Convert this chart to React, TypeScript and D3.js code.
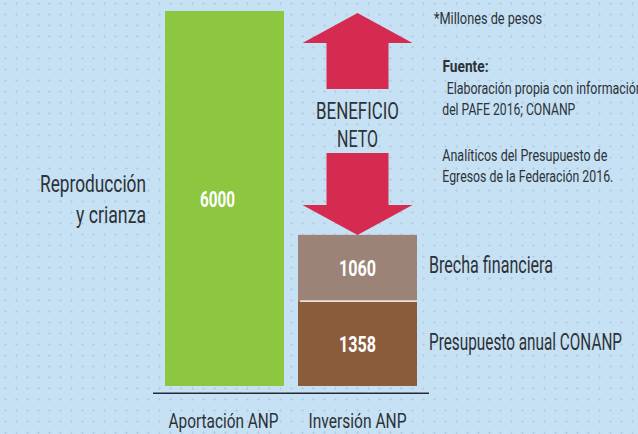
import React from "react";
import * as d3 from "d3";

const categories = ["Aportación ANP", "Inversión ANP"];
const aportacionValues = [6000];
const inversionSegments = ["Presupuesto anual CONANP", "Brecha financiera"];
const inversionValues = [1358, 1060];
const sideLabel = ["Reproducción", "y crianza"];
const beneficioLabel = ["BENEFICIO", "NETO"];
const notes = {
  unit: "*Millones de pesos",
  sourceTitle: "Fuente:",
  sourceLines: [
    "Elaboración propia con información",
    "del PAFE 2016; CONANP",
    "Analíticos del Presupuesto de",
    "Egresos de la Federación 2016.",
  ],
};

const W = 638;
const H = 434;
const TEXT = "#2d3237";
const FONT = "Roboto, 'Liberation Sans', sans-serif";

function T({ x, y, text, size, len, anchor = "start", weight = 400, fill = TEXT }: any) {
  return (
    <text
      x={x}
      y={y}
      fontSize={size}
      fontFamily={FONT}
      fontWeight={weight}
      textAnchor={anchor}
      fill={fill}
      textLength={len}
      lengthAdjust="spacingAndGlyphs"
    >
      {text}
    </text>
  );
}

export default function App() {
  const y = d3.scaleLinear().domain([0, 6000]).range([386, 11]);
  const x = d3
    .scaleBand<string>()
    .domain(categories)
    .range([165, 417])
    .paddingInner(14 / 133)
    .paddingOuter(0);
  const bw = x.bandwidth();

  const x0 = x(categories[0])!;
  const x1 = x(categories[1])!;
  const c0 = x0 + bw / 2;
  const c1 = x1 + bw / 2;

  const stack = inversionValues.reduce<{ v0: number; v1: number; name: string }[]>((acc, v, i) => {
    const start = acc.length ? acc[acc.length - 1].v1 : 0;
    acc.push({ v0: start, v1: start + v, name: inversionSegments[i] });
    return acc;
  }, []);
  const segColors = ["#8a5c3b", "#9b8477"];
  const total = stack[stack.length - 1].v1;

  // arrows
  const headW = 110;
  const shaftW = 62;
  const headH = 30;
  const upTip = y(aportacionValues[0]) + 2;
  const upShaftBottom = 89;
  const downTip = y(total);
  const downShaftTop = 153;
  const upPath = d3.path();
  upPath.moveTo(c1, upTip);
  upPath.lineTo(c1 + headW / 2, upTip + headH);
  upPath.lineTo(c1 + shaftW / 2, upTip + headH);
  upPath.lineTo(c1 + shaftW / 2, upShaftBottom);
  upPath.lineTo(c1 - shaftW / 2, upShaftBottom);
  upPath.lineTo(c1 - shaftW / 2, upTip + headH);
  upPath.lineTo(c1 - headW / 2, upTip + headH);
  upPath.closePath();
  const downPath = d3.path();
  downPath.moveTo(c1, downTip);
  downPath.lineTo(c1 + headW / 2, downTip - headH);
  downPath.lineTo(c1 + shaftW / 2, downTip - headH);
  downPath.lineTo(c1 + shaftW / 2, downShaftTop);
  downPath.lineTo(c1 - shaftW / 2, downShaftTop);
  downPath.lineTo(c1 - shaftW / 2, downTip - headH);
  downPath.lineTo(c1 - headW / 2, downTip - headH);
  downPath.closePath();

  const segLabelLens = [193, 124];
  const segLabelY = [350, 273];

  return (
    <svg
      width={W}
      height={H}
      style={{ position: "absolute", left: 0, top: 0, display: "block" }}
    >
      <defs>
        <pattern id="grid" patternUnits="userSpaceOnUse" x={0} y={0} width={11} height={11}>
          <rect x={4} y={3} width={3} height={1} fill="#b3d0e6" />
          <rect x={5} y={2} width={1} height={3} fill="#b3d0e6" />
        </pattern>
      </defs>
      <rect x={0} y={0} width={W} height={H} fill="#c6e1f4" />
      <rect x={0} y={0} width={W} height={H} fill="url(#grid)" />

      {/* Aportación bar */}
      {aportacionValues.map((v, i) => (
        <g key={"a" + i}>
          <rect x={x0} y={y(v)} width={bw} height={y(0) - y(v)} fill="#8dc63f" />
          <T
            x={c0 - 7}
            y={(y(v) + y(0)) / 2 + 8}
            text={String(v)}
            size={22}
            len={35}
            anchor="middle"
            weight={700}
            fill="#ffffff"
          />
        </g>
      ))}

      {/* Inversión stacked bar */}
      {stack.map((s, i) => (
        <g key={"s" + i}>
          <rect x={x1} y={y(s.v1)} width={bw} height={y(s.v0) - y(s.v1)} fill={segColors[i]} />
          <T
            x={c1}
            y={(y(s.v0) + y(s.v1)) / 2 + 8}
            text={String(inversionValues[i])}
            size={22}
            len={37}
            anchor="middle"
            weight={700}
            fill="#ffffff"
          />
          <T x={429} y={segLabelY[i]} text={s.name} size={23} len={segLabelLens[i]} />
        </g>
      ))}
      <line
        x1={x1 + 2}
        x2={x1 + bw}
        y1={y(stack[0].v1)}
        y2={y(stack[0].v1)}
        stroke="#eadfd8"
        strokeWidth={1.6}
      />

      {/* arrows */}
      <path d={upPath.toString()} fill="#d62b50" />
      <path d={downPath.toString()} fill="#d62b50" />
      <T x={c1} y={119} text={beneficioLabel[0]} size={23} len={83} anchor="middle" />
      <T x={c1} y={147} text={beneficioLabel[1]} size={23} len={41} anchor="middle" />

      {/* baseline */}
      <line x1={153} x2={429} y1={393.3} y2={393.3} stroke="#262a2e" strokeWidth={1.6} />

      {/* category labels */}
      <T x={c0 - 1} y={428} text={categories[0]} size={21} len={110} anchor="middle" />
      <T x={c1} y={428} text={categories[1]} size={21} len={98} anchor="middle" />

      {/* side label */}
      <T x={146} y={192} text={sideLabel[0]} size={24} len={106} anchor="end" />
      <T x={146} y={223} text={sideLabel[1]} size={24} len={70} anchor="end" />

      {/* notes */}
      <T x={434} y={24} text={notes.unit} size={17} len={108} />
      <T x={442.5} y={72} text={notes.sourceTitle} size={16} len={46} weight={700} />
      <T x={446.7} y={94} text={notes.sourceLines[0]} size={17} len={196} />
      <T x={442.3} y={115} text={notes.sourceLines[1]} size={17} len={133} />
      <T x={442.3} y={161} text={notes.sourceLines[2]} size={17} len={165} />
      <T x={442.3} y={182} text={notes.sourceLines[3]} size={17} len={171} />
    </svg>
  );
}
